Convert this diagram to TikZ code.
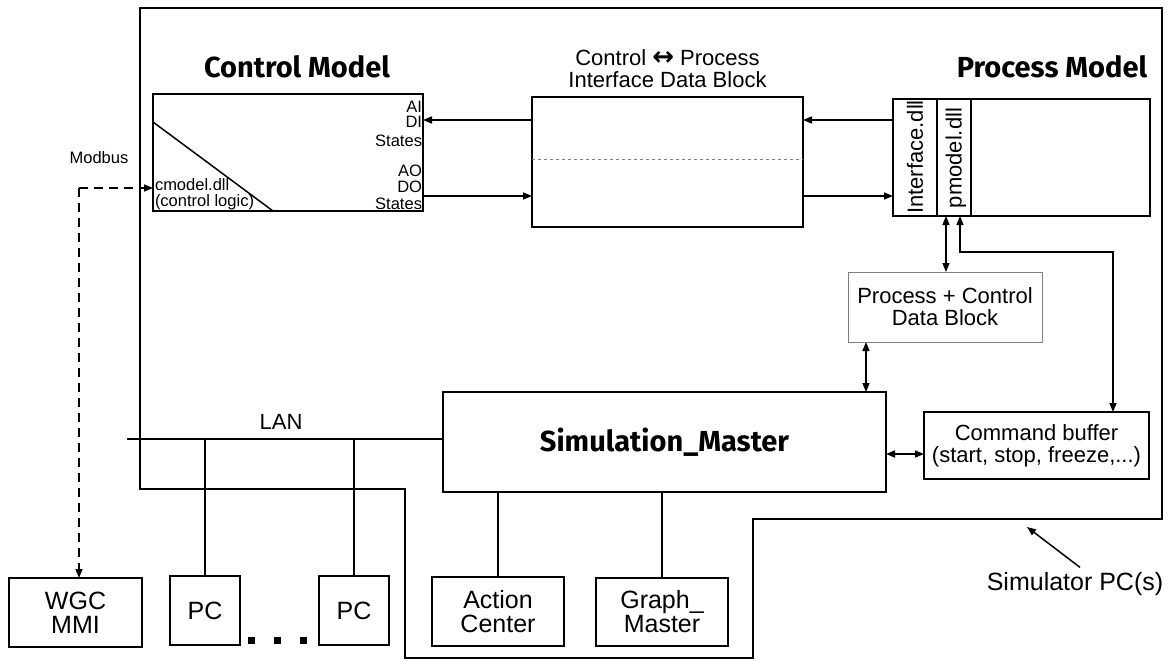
\documentclass[tikz,border=0pt]{standalone}
\usepackage{fontspec}
\setmainfont{Liberation Sans}
\newfontfamily\titlefont{Fira Sans}
\newfontfamily\symfont{DejaVu Sans}
\usetikzlibrary{arrows.meta,calc}
\begin{document}
\begin{tikzpicture}[x=1pt,y=-1pt,
 every node/.style={inner sep=0pt,outer sep=0pt},
 box/.style={draw,line width=1.5pt,rectangle},
 lbl/.style={font=\fontsize{22}{22}\selectfont,align=center},
 big/.style={font=\fontsize{25}{24}\selectfont,align=center},
 sml/.style={font=\fontsize{16.5}{16}\selectfont},
 ttl/.style={font=\titlefont\bfseries\fontsize{29}{30}\selectfont},
 ln/.style={line width=1.5pt},
 tip/.tip={Triangle[length=9pt,width=7pt]},
 arr/.style={ln,-tip},
 darr/.style={ln,tip-tip},
 dotsq/.style={fill=black,minimum size=7pt},
]
\useasboundingbox (0,0) rectangle (1176,661);

% Simulator PC frame
\draw[ln] (140,8) -- (1162,8) -- (1162,519) -- (753,519) -- (753,658) -- (405,658) -- (405,489) -- (140,489) -- cycle;

% Control model
\node[ttl] (cmt) at (297,67) {Control Model};
\node[box,minimum width=270pt,minimum height=117pt] (cm) at (288,152.5) {};
\draw[ln] ($(cm.north west)+(0,28)$) -- ($(cm.south west)+(120,0)$);
\node[sml,anchor=base west] (cmdll) at (155,190) {cmodel.dll};
\node[sml,anchor=base west] (cmlog) at (155,206) {(control logic)};
\node[sml,anchor=base east] (ai) at (422,112) {AI};
\node[sml,anchor=base east] (di) at (422,128) {DI};
\node[sml,anchor=base east] (st1) at (422,146) {States};
\node[sml,anchor=base east] (ao) at (422,176) {AO};
\node[sml,anchor=base east] (do) at (422,192) {DO};
\node[sml,anchor=base east] (st2) at (422,209) {States};

% Interface data block
\node[lbl] (ifbt) at (667.5,69) {Control {\symfont\bfseries\fontsize{26}{22}\selectfont ↔} Process\\Interface Data Block};
\node[box,minimum width=271pt,minimum height=130pt] (ifb) at (667.5,162) {};
\coordinate (ydash) at (0,159);
\draw[dashed,gray,line width=0.6pt] (ifb.west |- ydash) -- (ifb.east |- ydash);

% Process model
\node[ttl] (pmt) at (1052,67) {Process Model};
\node[box,minimum width=257pt,minimum height=117pt] (pm) at (1021.5,157.5) {};
\draw[ln] ($(pm.north west)+(44,0)$) -- ($(pm.south west)+(44,0)$);
\draw[ln] ($(pm.north west)+(78,0)$) -- ($(pm.south west)+(78,0)$);
\node[lbl,rotate=90] (ifdll) at (915,157) {Interface.dll};
\node[lbl,rotate=90] (pmdll) at (956,158) {pmodel.dll};

% connections between the top blocks
\coordinate (yA) at (0,120);
\coordinate (yB) at (0,196);
\draw[arr] (ifb.west |- yA) -- (cm.east |- yA);
\draw[arr] (cm.east |- yB) -- (ifb.west |- yB);
\draw[arr] (pm.west |- yA) -- (ifb.east |- yA);
\draw[arr] (ifb.east |- yB) -- (pm.west |- yB);

% Process + control data block
\node[draw=gray,line width=0.7pt,minimum width=194pt,minimum height=70pt,lbl] (pcb) at (945,307) {Process + Control\\Data Block};

% Simulation master and command buffer
\node[box,minimum width=443pt,minimum height=100pt,ttl] (sm) at (664.5,442) {Simulation\_Master};
\node[box,minimum width=225pt,minimum height=67pt,lbl] (cb) at (1036.5,445.5) {Command buffer\\(start, stop, freeze,...)};

\coordinate (c5) at (946,0);
\draw[darr] (c5 |- pm.south) -- (c5 |- pcb.north);
\coordinate (c6) at (960,252);
\coordinate (c6b) at (1113,252);
\draw[darr] (c6 |- pm.south) -- (c6) -- (c6b) -- (c6b |- cb.north);
\coordinate (c7) at (866,0);
\draw[darr] (c7 |- pcb.south) -- (c7 |- sm.north);
\coordinate (c8) at (0,454);
\draw[darr] (c8 -| sm.east) -- (c8 -| cb.west);

% bottom boxes
\node[box,minimum width=133pt,minimum height=69pt,big] (wgc) at (75.5,612.5) {WGC\\MMI};
\node[box,minimum width=70pt,minimum height=69pt,big] (pc1) at (205,610.5) {PC};
\node[box,minimum width=70pt,minimum height=69pt,big] (pc2) at (354,610.5) {PC};
\node[box,minimum width=132pt,minimum height=69pt,big] (ac) at (498,611.5) {Action\\Center};
\node[box,minimum width=132pt,minimum height=68pt,big] (gm) at (662,612) {Graph\_\\Master};
\node[dotsq] (dot1) at (251.5,640.5) {};
\node[dotsq] (dot2) at (277.5,640.5) {};
\node[dotsq] (dot3) at (303.5,640.5) {};

% LAN
\coordinate (lanL) at (127,439);
\draw[ln] (lanL) -- (lanL -| sm.west);
\node[lbl] (lan) at (281,422) {LAN};
\draw[ln] (pc1.north) -- (pc1.north |- lanL);
\draw[ln] (pc2.north) -- (pc2.north |- lanL);
\draw[ln] (ac.north) -- (ac.north |- sm.south);
\draw[ln] (gm.north) -- (gm.north |- sm.south);

% Modbus
\coordinate (mb) at (79,188);
\node[sml] (mbl) at (99,158) {Modbus};
\draw[ln,dash pattern=on 9pt off 6pt,-tip] (mb) -- (mb -| cm.west);
\draw[ln,dash pattern=on 9pt off 6pt,-tip] (mb) -- (mb |- wgc.north);

% Simulator PC label
\node[big] (spc) at (1075,584) {Simulator PC(s)};
\coordinate (fr) at (1027,527);
\draw[arr] ($(spc.north)+(5,-5)$) -- (fr);
\end{tikzpicture}
\end{document}
